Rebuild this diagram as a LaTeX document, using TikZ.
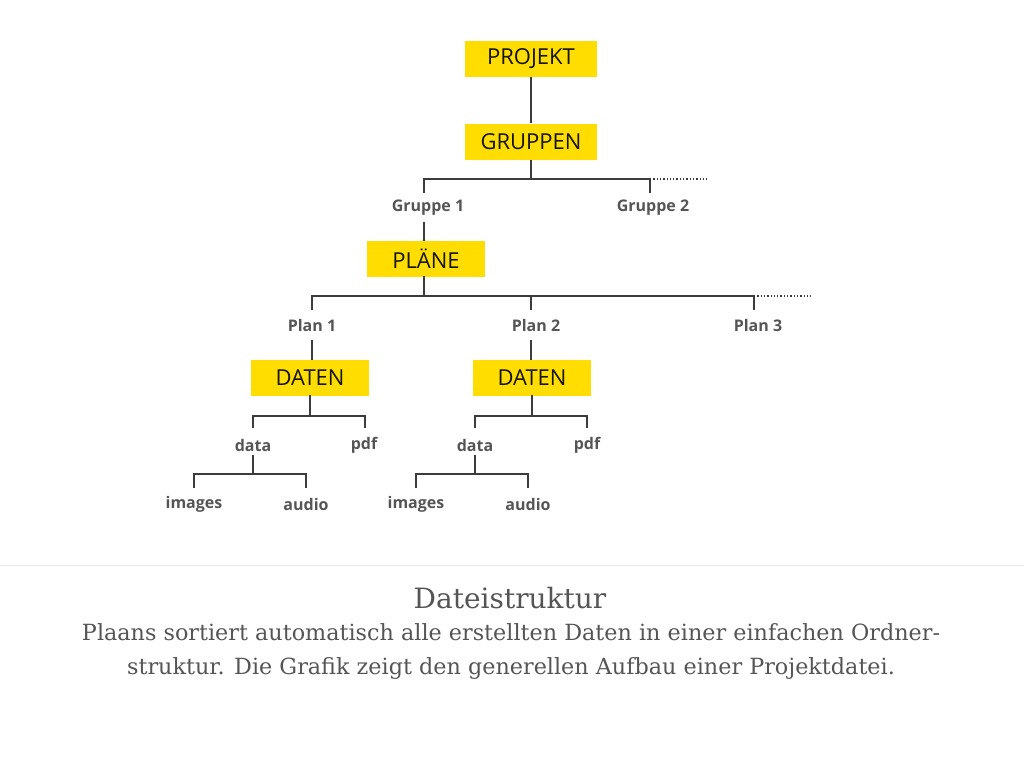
\documentclass[tikz,border=0pt]{standalone}
\usepackage{fontspec}
\setmainfont{Open Sans}
\newfontfamily\capfont{DejaVu Serif}
\begin{document}
\begin{tikzpicture}[x=1pt,y=-1pt,
  box/.style={fill={rgb,255:red,255;green,221;blue,0},minimum height=36pt,inner sep=0pt,font=\fontsize{22}{24}\selectfont,text={rgb,255:red,20;green,20;blue,20}},
  lbl/.style={font=\bfseries\fontsize{16}{18}\selectfont,text={rgb,255:red,85;green,85;blue,85},inner sep=1pt},
  ln/.style={draw={rgb,255:red,60;green,60;blue,60},line width=1.3pt},
  dt/.style={ln,dotted,line width=1.5pt}]
\useasboundingbox (0,0) rectangle (1024,768);
\node[box,minimum width=132pt] (projekt) at (531,59) {PROJEKT};
\node[box,minimum width=132pt] (gruppen) at (531,141.5) {GRUPPEN};
\node[box,minimum width=118pt] (plaene) at (426,258.5) {PLÄNE};
\node[box,minimum width=118pt] (daten1) at (310,377.5) {DATEN};
\node[box,minimum width=118pt] (daten2) at (532,377.5) {DATEN};
\node[lbl] (g1) at (428,208) {Gruppe 1};
\node[lbl] (g2) at (653,208) {Gruppe 2};
\node[lbl] (p1) at (312,325) {Plan 1};
\node[lbl] (p2) at (536,325) {Plan 2};
\node[lbl] (p3) at (758,325) {Plan 3};
\node[lbl] (d1) at (253,445) {data};
\node[lbl] (f1) at (364,445) {pdf};
\node[lbl] (i1) at (194,504) {images};
\node[lbl] (a1) at (306,504) {audio};
\node[lbl] (d2) at (475,445) {data};
\node[lbl] (f2) at (587,445) {pdf};
\node[lbl] (i2) at (416,504) {images};
\node[lbl] (a2) at (528,504) {audio};
\coordinate (e1) at (707,179);
\coordinate (e2) at (812,296);
% connectors
\draw[ln] (projekt.south) -- (gruppen.north);
\draw[ln] (gruppen.south) -- (531,179);
\draw[ln] (424,193) -- (424,179) -- (650,179) -- (650,193);
\draw[dt] (650,179) -- (e1);
\draw[ln] (424,222) -- (424,241);
\draw[ln] (424,276) -- (424,296);
\draw[ln] (312,310) -- (312,296) -- (754,296) -- (754,310);
\draw[ln] (531,296) -- (531,310);
\draw[dt] (754,296) -- (e2);
\draw[ln] (312,340) -- (312,360);
\draw[ln] (531,340) -- (531,360);
\draw[ln] (310,395) -- (310,416);
\draw[ln] (253,428) -- (253,416) -- (365,416) -- (365,428);
\draw[ln] (253,455) -- (253,474);
\draw[ln] (194,488) -- (194,474) -- (306,474) -- (306,488);
\draw[ln] (532,395) -- (532,416);
\draw[ln] (475,428) -- (475,416) -- (587,416) -- (587,428);
\draw[ln] (475,455) -- (475,474);
\draw[ln] (416,488) -- (416,474) -- (528,474) -- (528,488);
% caption
\draw[draw={rgb,255:red,230;green,230;blue,230},line width=1pt] (0,565) -- (1024,565);
\node[font=\capfont\fontsize{28}{32}\selectfont,text={rgb,255:red,85;green,85;blue,85}] (title) at (510,598) {Dateistruktur};
\node[font=\capfont\fontsize{22.3}{34}\selectfont,text={rgb,255:red,85;green,85;blue,85},align=center] (body) at (511,651) {Plaans sortiert automatisch alle erstellten Daten in einer einfachen Ordner-\\struktur. Die Grafik zeigt den generellen Aufbau einer Projektdatei.};
\end{tikzpicture}
\end{document}
